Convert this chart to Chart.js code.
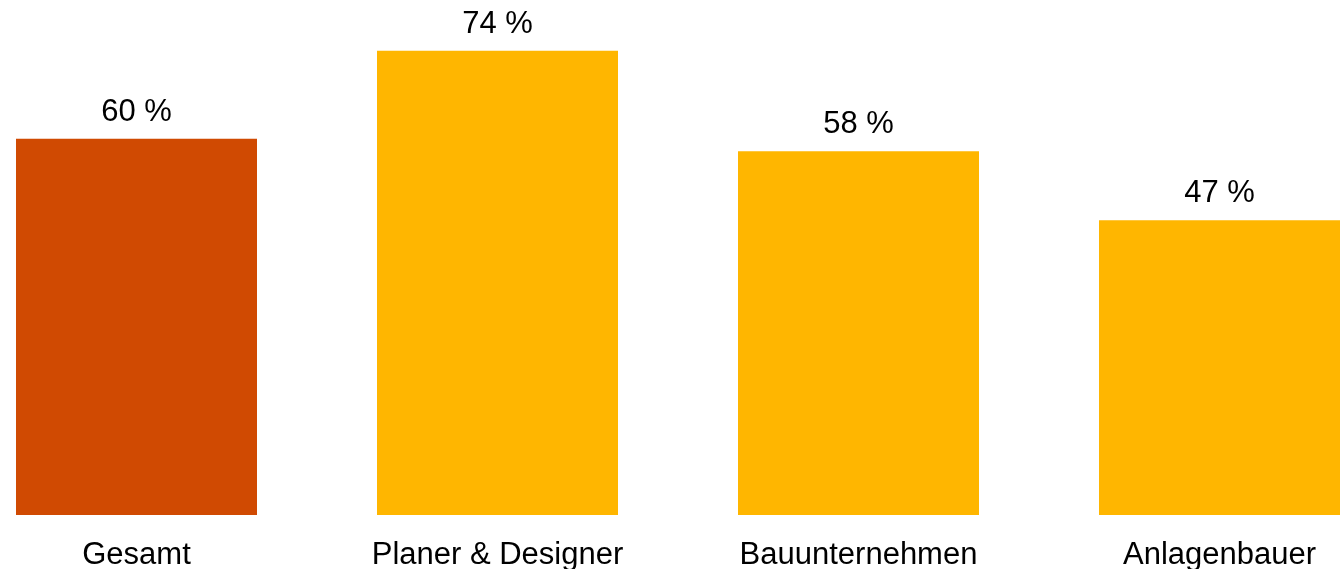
<!DOCTYPE html>
<html>
<head>
<meta charset="utf-8">
<script src="https://cdn.jsdelivr.net/npm/chart.js@4/dist/chart.umd.min.js"></script>
<style>
  html, body { margin: 0; padding: 0; background: #ffffff; overflow: hidden; }
  #wrap { position: absolute; left: -44px; top: 0; width: 1444px; height: 569px; }
</style>
</head>
<body>
<div id="wrap"><canvas id="c"></canvas></div>
<script>
const categories = ['Gesamt', 'Planer & Designer', 'Bauunternehmen', 'Anlagenbauer'];
const shares = [60, 74, 58, 47];
const barColors = ['#D04A02', '#FFB600', '#FFB600', '#FFB600'];

const FONT = '"Liberation Sans", Arial, sans-serif';

// Writes "xx %" above every bar, positioned from the bar element itself
const valueLabels = {
  id: 'valueLabels',
  afterDatasetsDraw(chart) {
    const ctx = chart.ctx;
    const meta = chart.getDatasetMeta(0);
    ctx.save();
    ctx.font = '31px ' + FONT;
    ctx.fillStyle = '#000000';
    ctx.textAlign = 'center';
    ctx.textBaseline = 'alphabetic';
    meta.data.forEach((bar, i) => {
      ctx.fillText(shares[i] + ' %', bar.x, bar.y - 18);
    });
    ctx.restore();
  }
};

new Chart(document.getElementById('c'), {
  type: 'bar',
  data: {
    labels: categories,
    datasets: [{
      data: shares,
      backgroundColor: barColors,
      borderWidth: 0,
      barPercentage: 0.6676,
      categoryPercentage: 1
    }]
  },
  options: {
    responsive: true,
    maintainAspectRatio: false,
    animation: false,
    layout: { padding: 0 },
    plugins: { legend: { display: false }, tooltip: { enabled: false } },
    scales: {
      x: {
        grid: { display: false, drawTicks: false },
        border: { display: false },
        ticks: { color: '#000000', font: { family: FONT, size: 31 }, padding: 22, maxRotation: 0, autoSkip: false },
        afterFit(scale) { scale.height = 54; }
      },
      y: {
        display: false,
        min: 0,
        max: 82.1
      }
    }
  },
  plugins: [valueLabels]
});
</script>
</body>
</html>
